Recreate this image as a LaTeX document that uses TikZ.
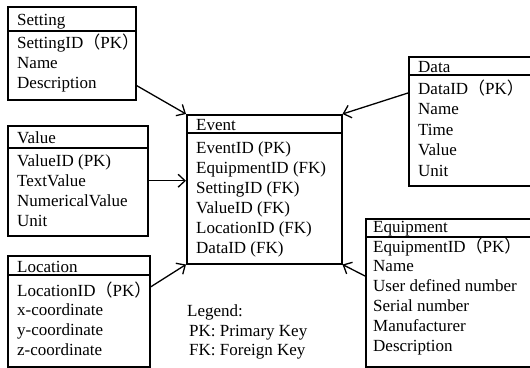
\documentclass[tikz,border=0pt]{standalone}
\usepackage{fontspec}
\setmainfont{Liberation Serif}
\newfontfamily\cjk{Noto Sans CJK SC}
\usetikzlibrary{arrows.meta}
\newcommand{\fwp}[1]{{\cjk （}#1{\cjk ）}}
\tikzset{
  ebox/.style={draw, line width=1.5pt, anchor=north west, inner sep=0pt},
  sepline/.style={line width=1.5pt},
  txt/.style={anchor=base west, inner sep=0pt, font=\fontsize{17}{20}\selectfont},
  conn/.style={line width=1.3pt, -{Straight Barb[length=7pt,width=13pt,line width=1.3pt]}}
}
\begin{document}
\begin{tikzpicture}[x=1pt,y=-1pt]
\useasboundingbox (0,0) rectangle (530,367);
\clip (0,0) rectangle (530,367);
\fill[white] (0,0) rectangle (530,367);

% Setting
\node[ebox, minimum width=128pt, minimum height=93pt] (set) at (7,6) {};
\draw[sepline] ([yshift=-25pt]set.north west) -- ([yshift=-25pt]set.north east);
\node[txt] (set-h) at (17,25) {Setting};
\foreach \t [count=\i] in {SettingID\fwp{PK}, Name, Description}
  \node[txt] (set-\i) at (17,{48+20*(\i-1)}) {\t};

% Event
\node[ebox, minimum width=155pt, minimum height=149pt] (ev) at (186,114) {};
\draw[sepline] ([yshift=-19pt]ev.north west) -- ([yshift=-19pt]ev.north east);
\node[txt] (ev-h) at (196,130) {Event};
\foreach \t [count=\i] in {EventID (PK), EquipmentID (FK), SettingID (FK), ValueID (FK), LocationID (FK), DataID (FK)}
  \node[txt] (ev-\i) at (196,{153+20*(\i-1)}) {\t};

% Data
\node[ebox, minimum width=137pt, minimum height=129pt] (dat) at (408,56) {};
\draw[sepline] ([yshift=-19pt]dat.north west) -- ([yshift=-19pt]dat.north east);
\node[txt] (dat-h) at (418,72) {Data};
\foreach \t [count=\i] in {DataID\fwp{PK}, Name, Time, Value, Unit}
  \node[txt] (dat-\i) at (418,{94+20.5*(\i-1)}) {\t};

% Value
\node[ebox, minimum width=140pt, minimum height=110pt] (val) at (7,125) {};
\draw[sepline] ([yshift=-23pt]val.north west) -- ([yshift=-23pt]val.north east);
\node[txt] (val-h) at (17,143) {Value};
\foreach \t [count=\i] in {ValueID (PK), TextValue, NumericalValue, Unit}
  \node[txt] (val-\i) at (17,{166+20*(\i-1)}) {\t};

% Location
\node[ebox, minimum width=142pt, minimum height=111pt] (loc) at (7,255) {};
\draw[sepline] ([yshift=-20pt]loc.north west) -- ([yshift=-20pt]loc.north east);
\node[txt] (loc-h) at (17,272) {Location};
\foreach \t [count=\i] in {LocationID\fwp{PK}, x-coordinate, y-coordinate, z-coordinate}
  \node[txt] (loc-\i) at (17,{296+19.7*(\i-1)}) {\t};

% Equipment
\node[ebox, minimum width=180pt, minimum height=148pt] (eq) at (365,218) {};
\draw[sepline] ([yshift=-19pt]eq.north west) -- ([yshift=-19pt]eq.north east);
\node[txt] (eq-h) at (373,232) {Equipment};
\foreach \t [count=\i] in {EquipmentID\fwp{PK}, Name, User defined number, Serial number, Manufacturer, Description}
  \node[txt] (eq-\i) at (373,{252+19.8*(\i-1)}) {\t};

% Legend
\node[txt] (leg-h) at (187,316) {Legend:};
\node[txt] (leg-1) at (189,336) {PK: Primary Key};
\node[txt] (leg-2) at (189,355) {FK: Foreign Key};

% Connectors
\draw[conn] ([yshift=15pt]set.south east) -- (ev.north west);
\draw[conn] ([yshift=-37pt]dat.north west) -- (ev.north east);
\draw[conn] (val.east) -- (ev.west |- val.east);
\draw[conn] ([yshift=-32pt]loc.north east) -- (ev.south west);
\draw[conn] ([yshift=-58pt]eq.north west) -- (ev.south east);
\end{tikzpicture}
\end{document}
